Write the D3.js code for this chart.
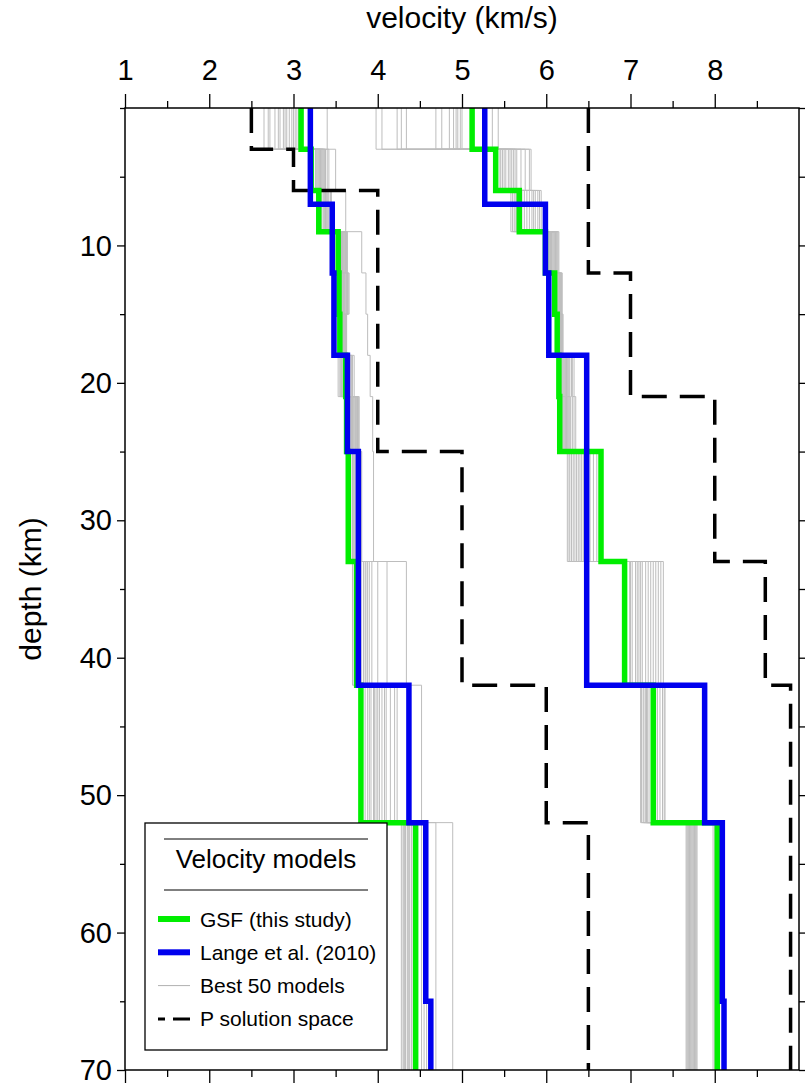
<!DOCTYPE html>
<html>
<head>
<meta charset="utf-8">
<script src="https://cdn.jsdelivr.net/npm/d3@7"></script>
<style>
  body { margin: 0; background: #fff; }
  text { font-family: "Liberation Sans", Arial, Helvetica, sans-serif; fill: #000; }
</style>
</head>
<body>
<div id="chart"></div>
<script>

// layer tops (km) shared by GSF model and best 50 models
var layerDepths = [0, 3, 6, 9, 12, 15, 18, 21, 25, 33, 42, 52, 70];

// GSF (this study)
var gsfS = [3.09, 3.21, 3.30, 3.53, 3.54, 3.55, 3.62, 3.63, 3.65, 3.75, 3.80, 4.45];
var gsfP = [5.12, 5.40, 5.68, 5.99, 6.10, 6.13, 6.15, 6.16, 6.65, 6.93, 7.27, 8.03];

// Lange et al. (2010)
var langeDepths = [0, 7, 12, 18, 25, 42, 52, 65, 70];
var langeS = [3.20, 3.46, 3.48, 3.64, 3.77, 4.37, 4.57, 4.63];
var langeP = [5.27, 5.99, 6.03, 6.48, 6.48, 7.88, 8.09, 8.11];

// P solution space bounds
var lowDepths = [0, 3, 6, 25, 42, 52, 70];
var lowVel = [2.5, 3.0, 4.0, 5.0, 6.0, 6.5];
var highDepths = [0, 12, 21, 33, 42, 70];
var highVel = [6.5, 7.0, 8.0, 8.6, 8.9];

// best models (a readable subset), one row per model, one value per layer
var bestS = [
    [2.65, 3.28, 3.30, 3.55, 3.56, 3.56, 3.53, 3.67, 3.68, 3.70, 3.85, 4.28],
    [2.72, 3.30, 3.33, 3.56, 3.58, 3.57, 3.55, 3.68, 3.70, 3.72, 3.88, 4.30],
    [2.78, 3.26, 3.28, 3.58, 3.60, 3.58, 3.58, 3.70, 3.71, 3.75, 3.92, 4.32],
    [2.84, 3.32, 3.36, 3.60, 3.62, 3.60, 3.60, 3.72, 3.73, 3.78, 3.95, 4.33],
    [2.88, 3.34, 3.38, 3.62, 3.64, 3.62, 3.62, 3.74, 3.75, 3.80, 3.98, 4.35],
    [2.92, 3.36, 3.40, 3.56, 3.57, 3.59, 3.65, 3.75, 3.77, 3.83, 4.02, 4.37],
    [2.95, 3.38, 3.42, 3.59, 3.61, 3.61, 3.68, 3.76, 3.78, 3.86, 4.05, 4.38],
    [2.98, 3.40, 3.44, 3.61, 3.63, 3.63, 3.70, 3.77, 3.80, 3.88, 4.08, 4.40],
    [3.00, 3.42, 3.45, 3.63, 3.65, 3.60, 3.72, 3.78, 3.81, 3.90, 4.10, 4.42],
    [3.02, 3.29, 3.31, 3.57, 3.59, 3.62, 3.57, 3.69, 3.72, 3.93, 4.15, 4.52],
    [3.04, 3.31, 3.35, 3.55, 3.56, 3.58, 3.60, 3.71, 3.74, 4.00, 4.20, 4.55],
    [3.06, 3.33, 3.37, 3.60, 3.60, 3.59, 3.63, 3.73, 3.76, 4.11, 4.23, 4.58],
    [3.40, 3.50, 3.62, 3.81, 3.86, 3.88, 3.91, 3.94, 3.95, 4.34, 4.52, 4.89],
    [2.90, 3.27, 3.29, 3.58, 3.60, 3.61, 3.56, 3.69, 3.70, 3.74, 3.90, 4.69],
    [2.82, 3.35, 3.39, 3.62, 3.64, 3.62, 3.66, 3.74, 3.76, 3.80, 3.96, 4.31],
    [2.70, 3.37, 3.41, 3.64, 3.66, 3.63, 3.69, 3.76, 3.79, 3.85, 4.00, 4.36]
];
var bestP = [
    [3.98, 5.42, 5.58, 6.01, 6.08, 6.11, 6.16, 6.17, 6.25, 6.99, 7.12, 7.66],
    [4.05, 5.45, 5.62, 6.03, 6.09, 6.12, 6.18, 6.19, 6.28, 7.02, 7.15, 7.68],
    [4.23, 5.48, 5.65, 6.05, 6.11, 6.13, 6.20, 6.21, 6.32, 7.06, 7.18, 7.70],
    [4.28, 5.50, 5.68, 6.06, 6.12, 6.14, 6.22, 6.23, 6.36, 7.10, 7.20, 7.71],
    [4.34, 5.52, 5.71, 6.08, 6.14, 6.15, 6.24, 6.25, 6.40, 7.14, 7.22, 7.72],
    [4.69, 5.55, 5.74, 6.09, 6.15, 6.16, 6.26, 6.27, 6.44, 7.18, 7.25, 7.73],
    [4.76, 5.57, 5.77, 6.10, 6.16, 6.17, 6.28, 6.29, 6.48, 7.21, 7.28, 7.74],
    [4.85, 5.59, 5.80, 6.11, 6.17, 6.18, 6.30, 6.31, 6.52, 7.24, 7.30, 7.75],
    [4.90, 5.61, 5.83, 6.12, 6.18, 6.19, 6.31, 6.33, 6.56, 7.27, 7.32, 7.76],
    [4.93, 5.63, 5.85, 6.13, 6.19, 6.20, 6.33, 6.35, 6.60, 7.30, 7.35, 7.77],
    [4.95, 5.65, 5.87, 6.14, 6.18, 6.18, 6.17, 6.18, 6.27, 7.33, 7.38, 7.78],
    [4.98, 5.70, 5.90, 6.15, 6.16, 6.16, 6.19, 6.20, 6.30, 7.36, 7.40, 7.79],
    [5.00, 5.75, 5.92, 6.02, 6.10, 6.13, 6.21, 6.22, 6.34, 7.39, 7.41, 7.98],
    [5.25, 5.80, 5.94, 6.04, 6.12, 6.15, 6.23, 6.24, 6.38, 7.00, 7.13, 8.00],
    [5.36, 5.82, 5.60, 6.06, 6.13, 6.17, 6.25, 6.26, 6.42, 7.08, 7.16, 7.67],
    [5.43, 5.46, 5.64, 6.07, 6.14, 6.19, 6.27, 6.28, 6.46, 7.12, 7.19, 7.69]
];

var xTicks = [1, 2, 3, 4, 5, 6, 7, 8];
var xMinor = [1.5, 2.5, 3.5, 4.5, 5.5, 6.5, 7.5, 8.5];
var yTicks = [10, 20, 30, 40, 50, 60, 70];
var yMinor = [0, 5, 15, 25, 35, 45, 55, 65];

var legendItems = [
    {label: "GSF (this study)", color: "#00ee00", width: 6, dash: null},
    {label: "Lange et al. (2010)", color: "#0000ee", width: 6, dash: null},
    {label: "Best 50 models", color: "#b0b0b0", width: 1, dash: null},
    {label: "P solution space", color: "#000", width: 3, dash: "7,8,17"}
];

var W = 805, H = 1083;
var mLeft = 125, mRight = 799, mTop = 108, mBottom = 1070;

var svg = d3.select("#chart").append("svg")
    .attr("width", W)
    .attr("height", H);

var x = d3.scaleLinear().domain([1, 9]).range([mLeft, mRight]);
var y = d3.scaleLinear().domain([0, 70]).range([mTop, mBottom]);

// turn layer tops + velocities into a step profile
function stepPoints(depths, vals) {
    var pts = [];
    vals.forEach(function (v, i) {
        pts.push([v, depths[i]]);
        pts.push([v, depths[i + 1]]);
    });
    return pts;
}

var line = d3.line()
    .x(function (d) { return x(d[0]); })
    .y(function (d) { return y(d[1]); });

var plot = svg.append("g");

// gray best models
bestS.concat(bestP).forEach(function (m) {
    plot.append("path")
        .attr("d", line(stepPoints(layerDepths, m)))
        .attr("fill", "none")
        .attr("stroke", "#bdbdbd")
        .attr("stroke-width", 1);
});

// P solution space
[[lowDepths, lowVel], [highDepths, highVel]].forEach(function (b) {
    plot.append("path")
        .attr("d", line(stepPoints(b[0], b[1])))
        .attr("fill", "none")
        .attr("stroke", "#000")
        .attr("stroke-width", 3.5)
        .attr("stroke-dasharray", "25,13");
});

// GSF
[gsfS, gsfP].forEach(function (m) {
    plot.append("path")
        .attr("d", line(stepPoints(layerDepths, m)))
        .attr("fill", "none")
        .attr("stroke", "#00ee00")
        .attr("stroke-width", 5.5);
});

// Lange
[langeS, langeP].forEach(function (m) {
    plot.append("path")
        .attr("d", line(stepPoints(langeDepths, m)))
        .attr("fill", "none")
        .attr("stroke", "#0000ee")
        .attr("stroke-width", 5.5);
});

// axes
function styleAxis(g) {
    g.select(".domain").remove();
    g.selectAll("line").attr("stroke", "#000").attr("stroke-width", 1.3);
    g.selectAll("text")
        .style("font-family", "'Liberation Sans', Arial, sans-serif")
        .style("font-size", "29px")
        .attr("fill", "#000");
}

svg.append("g")
    .attr("transform", "translate(0," + mTop + ")")
    .call(d3.axisTop(x).tickValues(xTicks).tickSize(14).tickPadding(14).tickFormat(d3.format("d")))
    .call(styleAxis);
svg.append("g")
    .attr("transform", "translate(0," + mTop + ")")
    .call(d3.axisTop(x).tickValues(xMinor).tickSize(7).tickFormat(""))
    .call(styleAxis);
svg.append("g")
    .attr("transform", "translate(0," + mBottom + ")")
    .call(d3.axisBottom(x).tickValues(xTicks).tickSize(14).tickFormat(""))
    .call(styleAxis);
svg.append("g")
    .attr("transform", "translate(0," + mBottom + ")")
    .call(d3.axisBottom(x).tickValues(xMinor).tickSize(7).tickFormat(""))
    .call(styleAxis);

svg.append("g")
    .attr("transform", "translate(" + mLeft + ",0)")
    .call(d3.axisLeft(y).tickValues(yTicks).tickSize(8).tickPadding(5).tickFormat(d3.format("d")))
    .call(styleAxis)
    .selectAll("text").attr("dy", "0.33em");
svg.append("g")
    .attr("transform", "translate(" + mLeft + ",0)")
    .call(d3.axisLeft(y).tickValues(yMinor).tickSize(5).tickFormat(""))
    .call(styleAxis);
svg.append("g")
    .attr("transform", "translate(" + mRight + ",0)")
    .call(d3.axisRight(y).tickValues(yTicks).tickSize(14).tickFormat(""))
    .call(styleAxis);
svg.append("g")
    .attr("transform", "translate(" + mRight + ",0)")
    .call(d3.axisRight(y).tickValues(yMinor).tickSize(7).tickFormat(""))
    .call(styleAxis);

// frame
svg.append("rect")
    .attr("x", mLeft)
    .attr("y", mTop)
    .attr("width", mRight - mLeft)
    .attr("height", mBottom - mTop)
    .attr("fill", "none")
    .attr("stroke", "#000")
    .attr("stroke-width", 1.5);

// axis titles
svg.append("text")
    .attr("x", (mLeft + mRight) / 2)
    .attr("y", 28)
    .attr("text-anchor", "middle")
    .style("font-size", "30px")
    .text("velocity (km/s)");

svg.append("text")
    .attr("transform", "translate(41," + ((mTop + mBottom) / 2) + ") rotate(-90)")
    .attr("text-anchor", "middle")
    .style("font-size", "30px")
    .text("depth (km)");

// legend
var lg = svg.append("g");
lg.append("rect")
    .attr("x", 145).attr("y", 823)
    .attr("width", 242).attr("height", 227)
    .attr("fill", "#fff")
    .attr("stroke", "#000")
    .attr("stroke-width", 1.3);
lg.append("line")
    .attr("x1", 164).attr("x2", 368).attr("y1", 839).attr("y2", 839)
    .attr("stroke", "#000").attr("stroke-width", 1);
lg.append("line")
    .attr("x1", 164).attr("x2", 368).attr("y1", 890).attr("y2", 890)
    .attr("stroke", "#000").attr("stroke-width", 1);
lg.append("text")
    .attr("x", 266).attr("y", 868)
    .attr("text-anchor", "middle")
    .style("font-size", "26px")
    .text("Velocity models");

legendItems.forEach(function (item, i) {
    var yy = 919 + i * 33.3;
    lg.append("line")
        .attr("x1", 158).attr("x2", 190)
        .attr("y1", yy).attr("y2", yy)
        .attr("stroke", item.color)
        .attr("stroke-width", item.width)
        .attr("stroke-dasharray", item.dash);
    lg.append("text")
        .attr("x", 200).attr("y", yy + 7.5)
        .style("font-size", "21px")
        .text(item.label);
});

</script>
</body>
</html>
